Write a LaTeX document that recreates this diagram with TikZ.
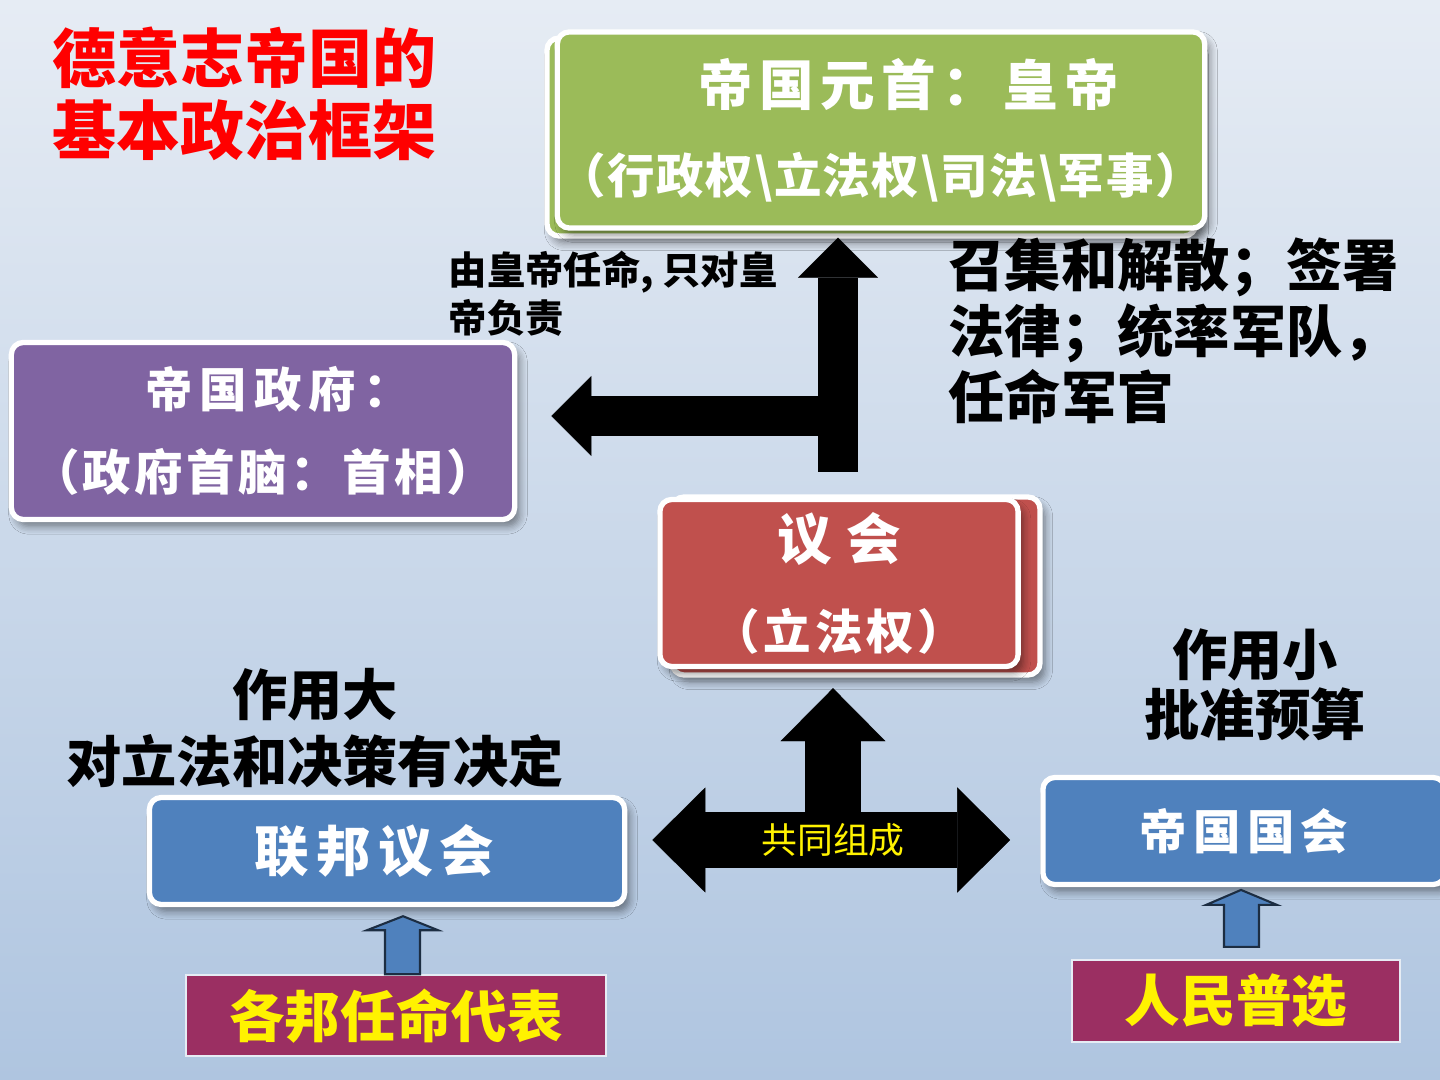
\documentclass[tikz,border=0pt]{standalone}
\usepackage{fontspec}
\setmainfont{Noto Sans CJK SC}
\usetikzlibrary{positioning,arrows.meta,shadows.blur,calc}

\definecolor{kaisergreen}{HTML}{9BBB59}
\definecolor{kaiserpurple}{HTML}{8064A2}
\definecolor{kaiserred}{HTML}{C0504D}
\definecolor{kaiserblue}{HTML}{4F81BD}
\definecolor{kaisermaroon}{HTML}{9B2F62}
\definecolor{skytop}{HTML}{E6ECF4}
\definecolor{skybottom}{HTML}{AFC5E0}

\newcommand{\spaced}[2]{\fontsize{#1}{#1}\selectfont\addfontfeatures{LetterSpace=#2}}

\tikzset{
  box/.style={draw=white, line width=1.5pt, rounded corners=0.12cm, text=white,
    font=\bfseries, align=center, inner sep=0pt,
    blur shadow={shadow xshift=0.05cm, shadow yshift=-0.07cm, shadow blur steps=6, shadow opacity=45}},
  backbox/.style={draw=white, line width=1.5pt, rounded corners=0.12cm,
    blur shadow={shadow xshift=0.05cm, shadow yshift=-0.07cm, shadow blur steps=6, shadow opacity=45}},
  origin/.style={draw=skytop, line width=0.6pt, fill=kaisermaroon, text=yellow,
    font=\bfseries\fontsize{15.8}{18}\selectfont, inner sep=0pt},
  note/.style={font=\bfseries, inner sep=0pt},
  blockarrow/.style={line width=0.4cm, -{Triangle[length=0.4cm,width=0.8cm,line width=0.1pt,fill=black,color=black]}},
  crossarrow/.style={line width=0.55cm, -{Triangle[length=0.53cm,width=1.05cm,line width=0.1pt,fill=black,color=black]}},
  bluearrow/.style={fill=kaiserblue, draw=kaiserblue!35!black, line width=0.6pt}
}

\begin{document}
\begin{tikzpicture}[x=0.01cm, y=-0.01cm]
  % background
  \shade[top color=skytop, bottom color=skybottom] (0,0) rectangle (1440,1080);
  \useasboundingbox (0,0) rectangle (1440,1080);

  % title
  \node[note, anchor=west, align=left, text=red, font=\bfseries\fontsize{18.2}{20.5}\selectfont]
    (title) at (52,94) {德意志帝国的\\基本政治框架};

  % stacked boxes behind
  \draw[backbox, fill=kaisergreen] (547,38) rectangle (1196,236);
  \draw[backbox, fill=kaiserred] (672,497) rectangle (1040,675);

  % main boxes
  \node[box, fill=kaisergreen, minimum width=6.47cm, minimum height=1.96cm,
    font=\bfseries\fontsize{13.5}{25}\selectfont] (emperor) at (881,130)
    {\hspace{0.55cm}{\spaced{15.5}{12}帝国元首：皇帝}\\{\addfontfeatures{LetterSpace=3}（行政权\textbackslash 立法权\textbackslash 司法\textbackslash 军事）}};
  \node[box, fill=kaiserpurple, minimum width=5.03cm, minimum height=1.77cm,
    font=\bfseries\fontsize{13.8}{23.6}\selectfont] (gov) at (263,431)
    {\hspace{0.3cm}{\spaced{13.5}{15}帝国政府：}\\{\addfontfeatures{LetterSpace=7}（政府首脑：首相）}};
  \node[box, fill=kaiserred, minimum width=3.58cm, minimum height=1.67cm,
    font=\bfseries\fontsize{13.5}{25.6}\selectfont] (parl) at (839,583)
    {{\spaced{15.5}{27}议会}\\{\addfontfeatures{LetterSpace=8}（立法权）}};
  \node[box, fill=kaiserblue, minimum width=4.75cm, minimum height=1.07cm] (bund) at (387,851)
    {\spaced{15.5}{13}联邦议会\hspace{0.25cm}};
  \node[box, fill=kaiserblue, minimum width=4.02cm, minimum height=1.07cm] (reich) at (1244,831)
    {\spaced{13.5}{13}帝国国会};

  % sources
  \node[origin, minimum width=4.19cm, minimum height=0.81cm, below=0.67cm of bund, xshift=0.09cm] (states) {各邦任命代表};
  \node[origin, minimum width=3.28cm, minimum height=0.82cm] (people) at (1236,1001) {人民普选};

  % notes
  \node[note, anchor=west, align=left, font=\bfseries\fontsize{10.9}{13.7}\selectfont]
    (appoint) at (448,294) {由皇帝任命, 只对皇\\帝负责};
  \node[note, anchor=west, align=left, font=\bfseries\fontsize{16}{18.8}\selectfont]
    (powers) at (948,331) {召集和解散；签署\\法律；统率军队，\\任命军官};
  \node[note, align=center, font=\bfseries\fontsize{15.7}{19}\selectfont]
    (strong) at (315,728) {作用大\\对立法和决策有决定};
  \node[note, align=center, font=\bfseries\fontsize{15.7}{17.1}\selectfont]
    (weak) at (1255,685) {作用小\\批准预算};

  % emperor arrows
  \coordinate (stembase) at (838,472);
  \coordinate (armstart) at (838,416);
  \draw[blockarrow, shorten >=0.07cm] (stembase) -- (stembase |- emperor.south);
  \draw[blockarrow, shorten >=0.34cm] (armstart) -- (armstart -| gov.east);

  % parliament arrows
  \coordinate (hub) at (833,840);
  \draw[crossarrow, shorten >=0.19cm] (hub) -- (hub |- parl.south);
  \draw[crossarrow, shorten >=0.25cm] (hub) -- (hub -| bund.east);
  \draw[crossarrow, shorten >=0.30cm] (hub) -- (hub -| reich.west);
  \node[text=yellow, font=\fontsize{10.2}{12}\selectfont, inner sep=0pt] (formed) at (hub) {共同组成};

  % small arrows
  \draw[bluearrow] ($(states.north)+(-11,0)$) -- ++(0,-44) -- ++(-18,0) -- ++(36,-14)
    -- ++(35,14) -- ++(-18,0) -- ++(0,44) -- cycle;
  \draw[bluearrow] ($(people.north)+(-12,-12)$) -- ++(0,-42) -- ++(-18,0) -- ++(35,-15)
    -- ++(36,15) -- ++(-18,0) -- ++(0,42) -- cycle;
\end{tikzpicture}
\end{document}
